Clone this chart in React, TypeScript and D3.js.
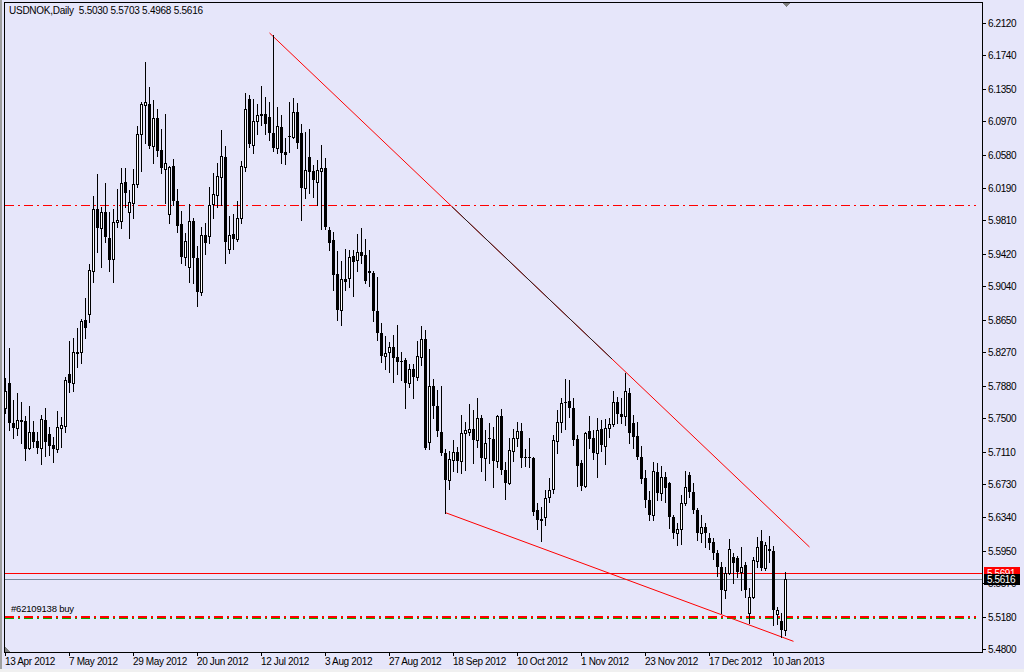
import React from "react";
import * as d3 from "d3";

const titleText = "USDNOK,Daily  5.5030 5.5703 5.4968 5.5616";
const orderLabel = "#62109138 buy";

const opens = [
5.7616,5.7914,5.7440,5.7389,5.7479,5.7467,5.7155,5.7335,5.7233,5.7155,5.7479,5.7315,5.7187,5.7137,5.7389,5.7413,
5.8016,5.7907,5.8265,5.8270,5.8647,5.8714,5.9223,5.9940,5.9725,5.9905,5.9601,5.9356,5.9795,5.9807,6.0255,5.9905,
6.0010,6.0232,6.0816,6.1159,6.1170,6.0680,6.1003,6.0633,6.0407,5.9882,6.0446,6.0037,5.9768,5.9386,5.9263,5.9803,
5.9368,5.8970,5.9640,5.9628,5.9998,6.0107,6.0314,6.0548,5.9473,5.9652,5.9590,5.9835,6.0438,6.1225,6.0688,6.0968,
6.1053,6.1053,6.1015,6.0828,6.0660,6.0898,6.0613,6.0796,6.0781,6.1073,6.0828,6.0185,6.0548,6.0391,6.0262,6.0391,
6.0419,5.9698,5.9581,5.9184,5.8764,5.9126,5.9141,5.9395,5.9348,5.9445,5.9406,5.9219,5.9192,5.8752,5.8499,5.8230,
5.8277,5.8335,5.8219,5.8172,5.8180,5.7914,5.8071,5.7985,5.8211,5.8421,5.7225,5.7876,5.7643,5.7342,5.7099,5.6772,
5.7012,5.7109,5.7004,5.7323,5.7342,5.7374,5.7245,5.7499,5.7032,5.7265,5.7253,5.7004,5.7526,5.6895,5.6740,5.7121,
5.7265,5.7350,5.7051,5.7043,5.7032,5.6428,5.6319,5.6342,5.6584,5.6669,5.7233,5.7450,5.7693,5.7701,5.7616,5.7253,
5.6973,5.6708,5.7350,5.7265,5.7097,5.7370,5.7179,5.7389,5.7428,5.7685,5.7549,5.7526,5.7790,5.7447,5.7292,5.7043,
5.6798,5.6548,5.6369,5.6875,5.6630,5.6817,5.6748,5.6349,5.6155,5.6206,5.6506,5.6836,5.6641,5.6428,5.6155,5.6225,
5.6097,5.6057,5.5929,5.5765,5.5493,5.5695,5.5882,5.5871,5.5707,5.5785,5.5228,5.5415,5.5836,5.6069,5.5746,5.5973,
5.5953,5.5209,5.5135,5.5030];

const highs = [
5.7966,5.8323,5.7713,5.7790,5.7693,5.7526,5.7643,5.7467,5.7342,5.7538,5.7616,5.7401,5.7284,5.7584,5.7518,5.7985,
5.8401,5.8433,5.8550,5.8655,5.8901,5.9301,6.0099,6.0352,5.9971,6.0244,5.9905,5.9940,6.0177,6.0419,6.0419,6.0165,
6.0407,6.0913,6.1190,6.1657,6.1372,6.1217,6.1108,6.0878,6.1053,6.0446,6.0524,6.0174,5.9920,5.9667,6.0002,5.9835,
5.9511,5.9730,5.9776,6.0204,6.0361,6.0485,6.0866,6.0680,5.9862,5.9885,6.0037,6.0504,6.1302,6.1275,6.1229,6.1176,
6.1380,6.1255,6.1197,6.1976,6.1139,6.1042,6.0769,6.1190,6.1244,6.1178,6.0933,6.0847,6.0878,6.0458,6.0516,6.0691,
6.0536,5.9733,5.9675,5.9453,5.9336,5.9476,5.9465,5.9465,5.9651,5.9718,5.9593,5.9465,5.9219,5.9146,5.8608,5.8463,
5.8386,5.8471,5.8588,5.8277,5.8199,5.8133,5.8133,5.8401,5.8577,5.8530,5.8304,5.7954,5.7829,5.7876,5.7137,5.7117,
5.7245,5.7167,5.7538,5.7459,5.7663,5.7596,5.7733,5.7538,5.7362,5.7447,5.7401,5.7538,5.7604,5.6992,5.7265,5.7370,
5.7459,5.7447,5.7137,5.7265,5.7051,5.6513,5.6467,5.6661,5.6805,5.7304,5.7596,5.7733,5.7958,5.7946,5.7733,5.7304,
5.7012,5.7342,5.7526,5.7362,5.7499,5.7479,5.7487,5.7499,5.7821,5.7744,5.7733,5.8024,5.7849,5.7538,5.7459,5.7175,
5.6895,5.6655,5.6988,5.6980,5.6936,5.6875,5.6758,5.6369,5.6279,5.6603,5.6887,5.6875,5.6746,5.6447,5.6369,5.6279,
5.6155,5.6097,5.5961,5.5824,5.5765,5.6085,5.5922,5.5890,5.5999,5.5824,5.5513,5.5882,5.6116,5.6194,5.6057,5.6124,
5.6007,5.5299,5.5221,5.5703];

const lows = [
5.7557,5.7362,5.7265,5.7304,5.7206,5.7012,5.7141,5.7167,5.7090,5.6962,5.7059,5.7070,5.6992,5.7109,5.7167,5.7342,
5.7809,5.7821,5.8102,5.8141,5.8433,5.8627,5.9094,5.9445,5.9270,5.9561,5.9223,5.9094,5.9730,5.9718,5.9971,5.9608,
5.9842,6.0197,6.0391,6.0718,6.0653,6.0485,6.0563,6.0361,6.0010,5.9776,5.9990,5.9678,5.9309,5.9289,5.9094,5.9075,
5.8814,5.8939,5.9418,5.9543,5.9842,5.9971,5.9990,5.9309,5.9426,5.9476,5.9573,5.9776,6.0391,6.0671,6.0592,6.0814,
6.0925,6.0816,6.0750,6.0621,6.0595,6.0477,6.0466,6.0613,6.0769,6.0653,5.9815,6.0069,6.0134,6.0087,5.9990,5.9706,
5.9710,5.9465,5.8997,5.8647,5.8588,5.8997,5.9036,5.8928,5.9223,5.9309,5.9083,5.9044,5.8639,5.8413,5.8160,5.8075,
5.8036,5.7926,5.8016,5.7946,5.7623,5.7868,5.7739,5.7946,5.8121,5.7137,5.7137,5.7498,5.7292,5.7070,5.6396,5.6676,
5.6887,5.6875,5.6863,5.6895,5.7304,5.6980,5.7167,5.6887,5.6778,5.6973,5.6693,5.6926,5.6845,5.6553,5.6728,5.7004,
5.7175,5.6926,5.6941,5.6926,5.6369,5.6202,5.6069,5.6253,5.6525,5.6629,5.7097,5.7342,5.7370,5.7518,5.7187,5.6708,
5.6661,5.6692,5.7148,5.7020,5.6809,5.7121,5.6965,5.7284,5.7409,5.7440,5.7440,5.7421,5.7214,5.7152,5.7020,5.6743,
5.6459,5.6311,5.6311,5.6545,5.6545,5.6525,5.6213,5.6097,5.6019,5.6030,5.6486,5.6583,5.6396,5.6077,5.6057,5.5999,
5.5969,5.5852,5.5657,5.5221,5.5396,5.5680,5.5578,5.5649,5.5493,5.5415,5.5104,5.5396,5.5758,5.5727,5.5727,5.5824,
5.5084,5.5092,5.4948,5.4968];

const closes = [
5.7821,5.7440,5.7389,5.7479,5.7459,5.7137,5.7335,5.7225,5.7155,5.7491,5.7218,5.7179,5.7141,5.7394,5.7421,5.7946,
5.7907,5.8270,5.8277,5.8635,5.8550,5.9231,5.9940,5.9725,5.9912,5.9620,5.9348,5.9795,5.9815,6.0244,6.0127,6.0022,
6.0232,6.0816,6.1167,6.1190,6.0680,6.1003,6.0625,6.0419,6.0477,6.0430,6.0040,5.9748,5.9386,5.9570,5.9803,5.9368,
5.8970,5.9640,5.9543,5.9990,6.0119,6.0329,6.0563,5.9555,5.9640,5.9590,5.9835,6.0446,6.1108,6.0699,6.0968,6.1042,
6.1034,6.0936,6.0828,6.0660,6.0913,6.0601,6.0574,6.0800,6.1073,6.0711,6.0185,6.0399,6.0379,6.0282,6.0399,6.0419,
5.9737,5.9546,5.9172,5.8764,5.9126,5.9094,5.9380,5.9328,5.9438,5.9398,5.9102,5.9199,5.8756,5.8499,5.8230,5.8258,
5.8335,5.8207,5.8160,5.8168,5.7914,5.8071,5.7985,5.8226,5.8421,5.7148,5.7876,5.7643,5.7354,5.7097,5.6778,5.7027,
5.7109,5.7004,5.7323,5.7362,5.7370,5.7245,5.7499,5.7039,5.7206,5.7253,5.7004,5.7526,5.6895,5.6740,5.7129,5.7265,
5.7350,5.7039,5.7032,5.7040,5.6408,5.6311,5.6303,5.6565,5.6661,5.7245,5.7452,5.7674,5.7674,5.7616,5.7245,5.6941,
5.6708,5.7323,5.7257,5.7097,5.7362,5.7187,5.7389,5.7428,5.7685,5.7545,5.7518,5.7818,5.7331,5.7284,5.7043,5.6790,
5.6548,5.6369,5.6883,5.6630,5.6817,5.6681,5.6346,5.6155,5.6206,5.6506,5.6692,5.6641,5.6428,5.6155,5.6225,5.6155,
5.6046,5.5929,5.5765,5.5493,5.5695,5.5969,5.5812,5.5707,5.5765,5.5493,5.5415,5.5844,5.5992,5.5746,5.6019,5.5953,
5.5260,5.5260,5.5026,5.5616];

const priceTicks = [6.212, 6.174, 6.135, 6.097, 6.058, 6.019, 5.981, 5.942, 5.904, 5.865,
  5.827, 5.788, 5.75, 5.711, 5.673, 5.634, 5.595, 5.557, 5.518, 5.48];

const dateLabels = ["13 Apr 2012", "7 May 2012", "29 May 2012", "20 Jun 2012", "12 Jul 2012",
  "3 Aug 2012", "27 Aug 2012", "18 Sep 2012", "10 Oct 2012", "1 Nov 2012", "23 Nov 2012",
  "17 Dec 2012", "10 Jan 2013"];
const dateLabelBars = [0, 16, 32, 48, 64, 80, 96, 112, 128, 144, 160, 176, 192];

const dashDotLevels = [5.9987];
const orderLevel = 5.518;
const askPrice = 5.5691;
const bidPrice = 5.5616;

const upperTrendBars = [66, 201];
const upperTrendPrices = [6.2, 5.5995];
const lowerTrendBars = [110, 197];
const lowerTrendPrices = [5.6396, 5.4893];

const BG = "#E6E6FA";
const FONT = "'Liberation Sans', Arial, sans-serif";

export default function App() {
  const x = d3.scaleLinear().domain([0, 195]).range([5, 785]);
  const y = d3.scaleLinear().domain([5.48, 6.212]).range([649.3, 22.7]);
  const left = 4.5, right = 982.5, top = 2.5, bottom = 652.5;

  const candles = opens.map((o, i) => {
    const h = highs[i], l = lows[i], c = closes[i];
    const cx = Math.round(x(i));
    const yH = Math.round(y(h)), yL = Math.round(y(l));
    const yO = Math.round(y(o)), yC = Math.round(y(c));
    const bull = c >= o;
    const bTop = Math.min(yO, yC), bBot = Math.max(yO, yC);
    return (
      <g key={i}>
        <line x1={cx + 0.5} x2={cx + 0.5} y1={yH} y2={yL + 1} stroke="#000" strokeWidth={1} />
        {bull ? (
          bBot - bTop >= 1 ? (
            <rect x={cx - 0.5} y={bTop + 0.5} width={2} height={bBot - bTop} fill="#fff" stroke="#000" strokeWidth={1} />
          ) : (
            <rect x={cx - 1} y={bTop} width={3} height={1} fill="#000" />
          )
        ) : (
          <rect x={cx - 1} y={bTop} width={3} height={Math.max(bBot - bTop, 1)} fill="#000" />
        )}
      </g>
    );
  });

  const trendLine = (bars: number[], prices: number[]) => ({
    x1: x(bars[0]) + 0.5, y1: y(prices[0]), x2: x(bars[1]) + 0.5, y2: y(prices[1]),
  });
  const up = trendLine(upperTrendBars, upperTrendPrices);
  const lo = trendLine(lowerTrendBars, lowerTrendPrices);
  const upAt = (px: number) => up.y1 + (up.y2 - up.y1) * (px - up.x1) / (up.x2 - up.x1);

  const yOrder = Math.round(y(orderLevel));
  const yAsk = Math.round(y(askPrice)) + 0.5;
  const yBid = Math.round(y(bidPrice)) + 0.5;

  return (
    <svg width={1024} height={672} style={{ position: "absolute", left: 0, top: 0, display: "block" }}
      fontFamily={FONT} shapeRendering="crispEdges">
      <rect x={0} y={0} width={1024} height={672} fill={BG} />
      <rect x={0} y={0} width={2} height={672} fill="#A0A0A0" />
      <rect x={0} y={669} width={1024} height={3} fill="#F0F0F0" />

      <text x={9} y={14} fontSize={10} fill="#000" style={{ whiteSpace: "pre" }} letterSpacing={-0.25}>{titleText}</text>

      {dashDotLevels.map((p, k) => (
        <line key={k} x1={left} x2={976} y1={Math.round(y(p)) + 0.5} y2={Math.round(y(p)) + 0.5}
          stroke="#FF0000" strokeWidth={1} strokeDasharray="9,4,2,4" />
      ))}

      <line x1={left} x2={976} y1={yOrder + 1.5} y2={yOrder + 1.5} stroke="#00B000" strokeWidth={1} strokeDasharray="9,4,2,4" />
      <line x1={left} x2={976} y1={yOrder} y2={yOrder} stroke="#FF0000" strokeWidth={2} strokeDasharray="9,4,2,4" />
      <text x={11} y={612} fontSize={9.5} fill="#000" letterSpacing={-0.2}>{orderLabel}</text>

      <line x1={left} x2={right} y1={yAsk} y2={yAsk} stroke="#FF0000" strokeWidth={1} />
      <line x1={left} x2={right} y1={yBid} y2={yBid} stroke="#778899" strokeWidth={1} />

      <g shapeRendering="auto">
        <line x1={up.x1} y1={up.y1} x2={up.x2} y2={up.y2} stroke="#FF0000" strokeWidth={1} />
        <line x1={452} y1={upAt(452)} x2={612} y2={upAt(612)} stroke="#202020" strokeWidth={1} />
        <line x1={lo.x1} y1={lo.y1} x2={lo.x2} y2={lo.y2} stroke="#FF0000" strokeWidth={1} />
      </g>

      {candles}

      <rect x={left} y={top} width={right - left} height={bottom - top} fill="none" stroke="#000" strokeWidth={1} />
      <polygon points="782,3 790,3 786,7" fill="#808080" />
      <polygon points="5,647 5,652 10,652" fill="#808080" />

      <g shapeRendering="auto">
        {priceTicks.map((p, k) => {
          const ty = Math.round(y(p)) + 0.5;
          return (
            <g key={k}>
              <line x1={right} x2={986} y1={ty} y2={ty} stroke="#000" shapeRendering="crispEdges" />
              <text x={988} y={ty} dy="0.35em" fontSize={10} fill="#000" letterSpacing={-0.4}>{p.toFixed(4)}</text>
            </g>
          );
        })}

        {dateLabelBars.map((b, k) => {
          const tx = Math.round(x(b)) + 0.5;
          return (
            <g key={k}>
              <line x1={tx} x2={tx} y1={bottom} y2={656} stroke="#000" shapeRendering="crispEdges" />
              <text x={tx - 0.5} y={665} fontSize={10} fill="#000" letterSpacing={-0.35}>{dateLabels[k]}</text>
            </g>
          );
        })}

        <rect x={984} y={yAsk - 6.5} width={36} height={12} fill="#FF0000" shapeRendering="crispEdges" />
        <text x={987} y={yAsk} dy="0.35em" fontSize={10} fill="#fff" letterSpacing={-0.4}>{askPrice.toFixed(4)}</text>
        <rect x={984} y={yBid - 5.5} width={36} height={11} fill="#000" shapeRendering="crispEdges" />
        <text x={987} y={yBid} dy="0.35em" fontSize={10} fill="#fff" letterSpacing={-0.4}>{bidPrice.toFixed(4)}</text>
      </g>
    </svg>
  );
}
